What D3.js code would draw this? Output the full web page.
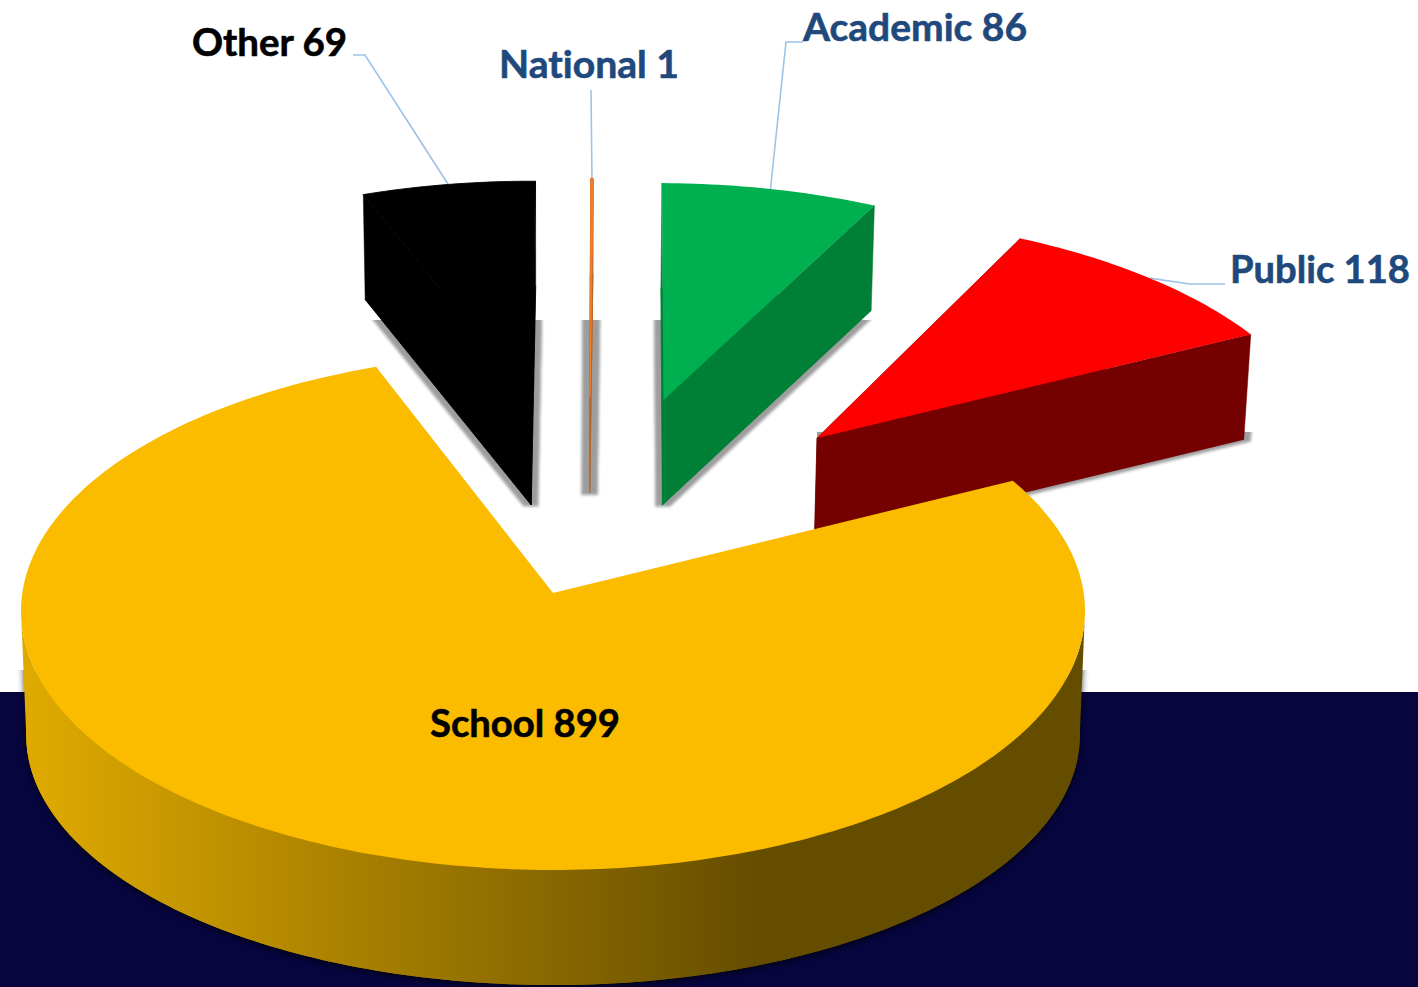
<!DOCTYPE html>
<html>
<head>
<meta charset="utf-8">
<script src="https://cdn.jsdelivr.net/npm/d3@7"></script>
<style>
	html, body { margin: 0; padding: 0; background: #fff; overflow: hidden; }
	svg { display: block; }
	.label {
		font-family: Lato, "Open Sans", sans-serif;
		font-weight: 700;
		font-size: 38px;
		font-variant-ligatures: none;
		stroke-width: 0.6;
	}
	.leader { fill: none; stroke: #9dc3e6; stroke-width: 1.6; }
</style>
</head>
<body>
<svg id="plot"></svg>
<script>
const WIDTH = 1418;
const HEIGHT = 987;

// clockwise from the black slice, the way the pie is laid out
const categories = ["Other", "National", "Academic", "Public", "School"];
const values = [69, 1, 86, 118, 899];

const topColors = ["#000000", "#ed7d31", "#00b050", "#ff0000", "#fbbc00"];
const sideColors = ["#000000", "#b9682c", "#008037", "#750000", "url(#school-side)"];
const labelColors = ["#000000", "#1f497d", "#1f497d", "#1f497d", "#000000"];

const START_DEG = -20.8;
const PERSPECTIVE = 0.0695;
const VANISH_X = 553;

// top face frame of each slice: where its apex lands and how big the disc is
const frames = {
	Other: { ax: 531, ay: 400, a: 507, b: 234, depth: 105 },
	National: { ax: 590, ay: 397, a: 507, b: 234, depth: 96 },
	Academic: { ax: 663.5, ay: 400, a: 507, b: 232, depth: 105 },
	Public: { ax: 817, ay: 438, a: 510, b: 238, depth: 105 },
};
const schoolTop = { ax: 553, ay: 593, a: 530.7, b: 257.7 };
const schoolBottom = { ax: 553, ay: 718, a: 525.5, b: 248.5 };

const labelPos = {
	Other: { x: 192, y: 56 },
	National: { x: 499, y: 78 },
	Academic: { x: 803, y: 41 },
	Public: { x: 1230, y: 283 },
	School: { x: 430, y: 737 },
};
const labelWidth = { Other: 155, National: 180, Academic: 224, Public: 180, School: 190 };
const leaderElbow = {
	Other: [[353, 55], [365, 55]],
	National: [[591, 90]],
	Academic: [[803, 42], [786, 42]],
	Public: [[1225, 284], [1190, 284]],
};
// the shadows are cut off hard in the reference, left and top of these
const shadowClip = {
	Other: [0, 320],
	National: [0, 320],
	Academic: [0, 320],
	Public: [817, 432],
};

const rad = d => (d * Math.PI) / 180;

const slices = d3
	.pie()
	.sort(null)
	.startAngle(rad(START_DEG))
	.endAngle(rad(START_DEG) + 2 * Math.PI)(values);

// disc point at angle t (clockwise from the far side) through a simple perspective
function project(t, f) {
	const u = Math.sin(t);
	const v = -Math.cos(t);
	const w = 1 - PERSPECTIVE * v;
	return [
		VANISH_X + (f.ax - VANISH_X + f.a * u) / w,
		f.ay + (f.b * v) / w,
	];
}

function arcPoints(s, f) {
	const n = Math.max(2, Math.ceil((s.endAngle - s.startAngle) / rad(1)));
	return d3.range(n + 1).map(i => project(s.startAngle + ((s.endAngle - s.startAngle) * i) / n, f));
}

const line = d3.line();
const wedge = (s, f) => line([[f.ax, f.ay], ...arcPoints(s, f)]) + "Z";

function lowerFrame(f) {
	return {
		ax: VANISH_X + (f.ax - VANISH_X) * 0.99,
		ay: f.ay + f.depth,
		a: f.a * 0.99,
		b: f.b,
	};
}

const plot = d3.select("#plot").attr("width", WIDTH).attr("height", HEIGHT);
const defs = plot.append("defs");

const grad = defs
	.append("linearGradient")
	.attr("id", "school-side")
	.attr("gradientUnits", "userSpaceOnUse")
	.attr("x1", 27)
	.attr("x2", 760)
	.attr("y1", 0)
	.attr("y2", 0);
grad.append("stop").attr("offset", 0).attr("stop-color", "#dfaa00");
grad.append("stop").attr("offset", 1).attr("stop-color", "#654d00");

const sliceShadow = defs
	.append("filter")
	.attr("id", "slice-shadow")
	.attr("filterUnits", "userSpaceOnUse")
	.attr("x", 0)
	.attr("y", 0)
	.attr("width", WIDTH)
	.attr("height", HEIGHT);
sliceShadow.append("feMorphology").attr("operator", "dilate").attr("radius", "6.5 2");
sliceShadow.append("feGaussianBlur").attr("stdDeviation", 1.8);

const schoolShadow = defs
	.append("filter")
	.attr("id", "school-shadow")
	.attr("filterUnits", "userSpaceOnUse")
	.attr("x", 0)
	.attr("y", 0)
	.attr("width", WIDTH)
	.attr("height", HEIGHT);
schoolShadow.append("feGaussianBlur").attr("stdDeviation", 3);

categories.slice(0, 4).forEach(name => {
	defs
		.append("clipPath")
		.attr("id", `clip-${name}`)
		.append("rect")
		.attr("x", shadowClip[name][0])
		.attr("y", shadowClip[name][1])
		.attr("width", WIDTH)
		.attr("height", HEIGHT);
});
defs
	.append("clipPath")
	.attr("id", "clip-school")
	.append("rect")
	.attr("x", 0)
	.attr("y", 670)
	.attr("width", WIDTH)
	.attr("height", HEIGHT);

// navy band behind the lower half
plot
	.append("rect")
	.attr("x", 0)
	.attr("y", 692)
	.attr("width", WIDTH)
	.attr("height", HEIGHT - 692)
	.attr("fill", "#07053e");

// leader lines go under the slices, they end on the arc middle
const leaders = plot.append("g");
categories.slice(0, 4).forEach((name, i) => {
	const s = slices[i];
	const end = project((s.startAngle + s.endAngle) / 2, frames[name]);
	leaders
		.append("path")
		.attr("class", "leader")
		.attr("d", line([...leaderElbow[name], end]));
});

// pieces of an exploded slice below its top face; kept apart so windings can't cancel
function sidePieces(s, f) {
	const low = lowerFrame(f);
	const apex = [f.ax, f.ay];
	const apexLow = [low.ax, low.ay];
	return [
		wedge(s, low),
		line([apex, project(s.startAngle, f), project(s.startAngle, low), apexLow]) + "Z",
		line([apex, project(s.endAngle, f), project(s.endAngle, low), apexLow]) + "Z",
	];
}

// far slices first, the school slice covers part of the red one
[3, 2, 1, 0].forEach(i => {
	const name = categories[i];
	const f = frames[name];
	const s = slices[i];
	const pieces = sidePieces(s, f);
	const thin = name === "National";
	const g = plot.append("g").attr("class", `slice-${name}`);

	g.append("g")
		.attr("clip-path", `url(#clip-${name})`)
		.append("g")
		.attr("opacity", 0.38)
		.attr("filter", "url(#slice-shadow)")
		.selectAll("path")
		.data([wedge(s, f), ...pieces])
		.join("path")
		.attr("d", d => d)
		.attr("fill", "#000")
		.attr("stroke", thin ? "#000" : "none")
		.attr("stroke-width", 2);

	// same colour stroke closes the hairlines between the pieces
	g.append("g")
		.selectAll("path")
		.data(pieces)
		.join("path")
		.attr("d", d => d)
		.attr("fill", sideColors[i])
		.attr("stroke", sideColors[i])
		.attr("stroke-width", thin ? 1.1 : 0.5);

	g.append("path")
		.attr("d", wedge(s, f))
		.attr("fill", topColors[i])
		.attr("stroke", thin || name === "Other" ? topColors[i] : "none")
		.attr("stroke-width", 0.9);
});

// school slice, the wall only needs the front part of the rim between the two silhouette points
const school = slices[4];
const frontRim = {
	startAngle: Math.acos(-PERSPECTIVE),
	endAngle: 2 * Math.PI - Math.acos(-PERSPECTIVE),
};
const wall = line([...arcPoints(frontRim, schoolTop), ...arcPoints(frontRim, schoolBottom).reverse()]) + "Z";

const schoolShadowGroup = plot
	.append("g")
	.attr("clip-path", "url(#clip-school)")
	.append("g")
	.attr("opacity", 0.7)
	.attr("filter", "url(#school-shadow)")
	.attr("transform", "translate(0,2)");
schoolShadowGroup.append("path").attr("d", wedge(school, schoolBottom)).attr("fill", "#000");
schoolShadowGroup.append("path").attr("d", wall).attr("fill", "#000");

plot.append("path").attr("d", wedge(school, schoolBottom)).attr("fill", sideColors[4]);
plot.append("path").attr("d", wall).attr("fill", sideColors[4]);
plot.append("path").attr("d", wedge(school, schoolTop)).attr("fill", topColors[4]);

plot
	.selectAll(".label")
	.data(categories)
	.join("text")
	.attr("class", "label")
	.attr("x", d => labelPos[d].x)
	.attr("y", d => labelPos[d].y)
	.attr("textLength", d => labelWidth[d])
	.attr("lengthAdjust", "spacingAndGlyphs")
	.attr("fill", (d, i) => labelColors[i])
	.attr("stroke", (d, i) => labelColors[i])
	.text((d, i) => `${d} ${values[i]}`);
</script>
</body>
</html>
